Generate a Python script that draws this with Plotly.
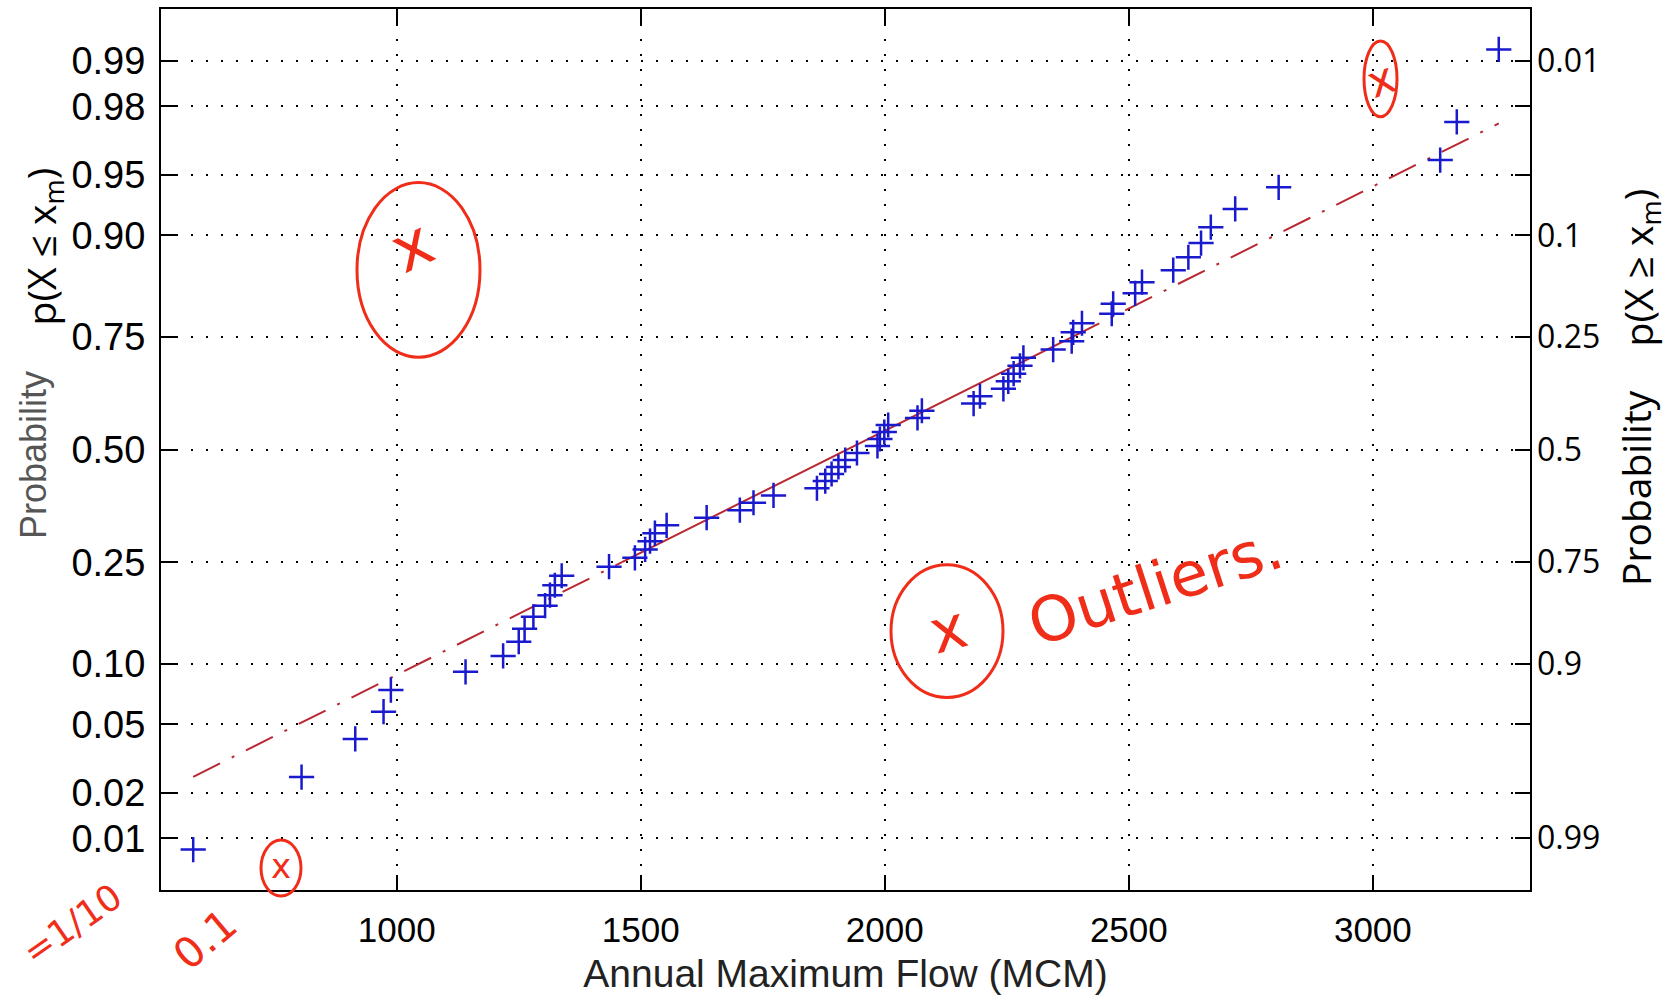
import plotly.graph_objects as go
from statistics import NormalDist

nd = NormalDist()

# ---- data (annual maximum flow, MCM), sorted ----
flow = [583, 805, 915, 973, 988, 1141, 1218, 1250, 1262, 1280,
        1304, 1314, 1324, 1338, 1435, 1488, 1509, 1519, 1529, 1553,
        1635, 1703, 1731, 1772, 1861, 1878, 1891, 1905, 1919, 1943,
        1985, 1990, 1999, 2007, 2067, 2076, 2182, 2195, 2243, 2253,
        2264, 2277, 2284, 2345, 2383, 2386, 2404, 2465, 2468, 2513,
        2527, 2591, 2622, 2648, 2668, 2718, 2807, 3138, 3172, 3258]

left_probs = [0.01, 0.02, 0.05, 0.10, 0.25, 0.50, 0.75, 0.90, 0.95, 0.98, 0.99]
left_labels = ["0.01", "0.02", "0.05", "0.10", "0.25", "0.50", "0.75", "0.90", "0.95", "0.98", "0.99"]
right_probs = [0.99, 0.90, 0.75, 0.50, 0.25, 0.10, 0.01]
right_labels = ["0.01", "0.1", "0.25", "0.5", "0.75", "0.9", "0.99"]
x_ticks = [1000, 1500, 2000, 2500, 3000]

n = len(flow)
zpos = [nd.inv_cdf((i + 0.5) / n) for i in range(n)]

# reference line through the quartiles
s = sorted(flow)
q1 = (s[14] + s[15]) / 2
q3 = (s[44] + s[45]) / 2
z25, z75 = nd.inv_cdf(0.25), nd.inv_cdf(0.75)
slope = (z75 - z25) / (q3 - q1)
def zfit(x):
    return z25 + (x - q1) * slope

LINE_COL = "rgb(185,40,50)"
MARK_COL = "rgb(25,25,205)"
RED = "rgb(240,45,25)"
NARROW = "Liberation Sans Narrow, Liberation Sans, Arial, sans-serif"

fig = go.Figure()
fig.add_trace(go.Scatter(x=[s[0], q1], y=[zfit(s[0]), zfit(q1)], mode="lines",
                         line=dict(color=LINE_COL, width=2, dash="30px,13px,3px,13px"),
                         hoverinfo="skip"))
fig.add_trace(go.Scatter(x=[q3, s[-1]], y=[zfit(q3), zfit(s[-1])], mode="lines",
                         line=dict(color=LINE_COL, width=2, dash="30px,13px,3px,13px"),
                         hoverinfo="skip"))
fig.add_trace(go.Scatter(x=[q1, q3], y=[zfit(q1), zfit(q3)], mode="lines",
                         line=dict(color=LINE_COL, width=2), hoverinfo="skip"))
fig.add_trace(go.Scatter(x=s, y=zpos, mode="markers",
                         marker=dict(symbol="cross-thin", size=18, color=MARK_COL,
                                     line=dict(color=MARK_COL, width=2.5))))
fig.add_trace(go.Scatter(x=[s[0]], y=[0], yaxis="y2", mode="markers",
                         marker=dict(opacity=0), hoverinfo="skip"))

L, R, T, B = 161, 1530, 7, 890
def px(x):
    return (x - L) / (R - L)
def py(y):
    return (B - y) / (B - T)

yr = [-2.636, 2.636]
axis_common = dict(ticks="inside", ticklen=15, tickwidth=1.5, tickcolor="black",
                   showline=True, linewidth=2, linecolor="black", mirror="ticks",
                   showgrid=True, gridcolor="black", gridwidth=1.5, griddash="2px,13px",
                   zeroline=False)

fig.update_layout(
    width=1668, height=996,
    margin=dict(l=L, r=1668 - R, t=T, b=996 - B, pad=0),
    paper_bgcolor="white", plot_bgcolor="white",
    showlegend=False,
    xaxis=dict(range=[517, 3322], tickvals=x_ticks, ticktext=[str(v) for v in x_ticks],
               tickfont=dict(family=NARROW, size=35, color="black"),
               ticklabelstandoff=8,
               title=dict(text="Annual Maximum Flow (MCM)",
                          font=dict(family=NARROW, size=39, color="#222"), standoff=12),
               **axis_common),
    yaxis=dict(range=yr, tickvals=[nd.inv_cdf(p) for p in left_probs], ticktext=left_labels,
               tickfont=dict(family=NARROW, size=38, color="black"),
               ticklabelstandoff=6,
               **axis_common),
    yaxis2=dict(range=yr, overlaying="y", side="right",
                tickvals=[nd.inv_cdf(p) for p in right_probs], ticktext=right_labels,
                tickfont=dict(family="Open Sans", size=32, color="black"),
                ticks="", showline=False, showgrid=False, zeroline=False,
                ticklabelstandoff=6),
)

def note(x, y, text, size, color, family, angle=0):
    return dict(x=px(x), y=py(y), xref="paper", yref="paper", text=text,
                xanchor="center", yanchor="middle", textangle=angle, showarrow=False,
                font=dict(family=family, size=size, color=color))

ann = [
    # axis titles
    note(34, 454, "Probability", 36, "#555", NARROW, -90),
    note(43, 245, "p(X ≤ x<sub>m</sub>)", 39, "black", "Open Sans", -90),
    note(1636, 487, "Probability", 39, "black", "Open Sans", -90),
    note(1640, 266, "p(X ≥ x<sub>m</sub>)", 39, "black", "Open Sans", -90),
    # handwritten red notes
    note(412, 245, "x", 64, RED, "DejaVu Sans", -25),
    note(1381, 78, "x", 44, RED, "DejaVu Sans", -20),
    note(948, 628, "x", 60, RED, "DejaVu Sans", -15),
    note(281, 866, "x", 34, RED, "DejaVu Sans", 0),
    note(1155, 585, "Outliers.", 62, RED, "DejaVu Sans", -18),
    note(205, 940, "0.1", 42, RED, "DejaVu Sans", -40),
    note(72, 925, "=1/10", 36, RED, "DejaVu Sans", -35),
]
fig.update_layout(annotations=ann)

shapes = []
for (x0, y0, x1, y1) in [(357, 181, 480, 356), (1364, 39, 1397, 115),
                         (891, 564, 1003, 697), (261, 840, 301, 896)]:
    shapes.append(dict(type="circle", xref="paper", yref="paper",
                       x0=px(x0), x1=px(x1), y0=py(y1), y1=py(y0),
                       line=dict(color=RED, width=3)))
fig.update_layout(shapes=shapes)

fig.write_html("out.html", config={"displayModeBar": False},
               post_script="document.body.style.margin='0';")
